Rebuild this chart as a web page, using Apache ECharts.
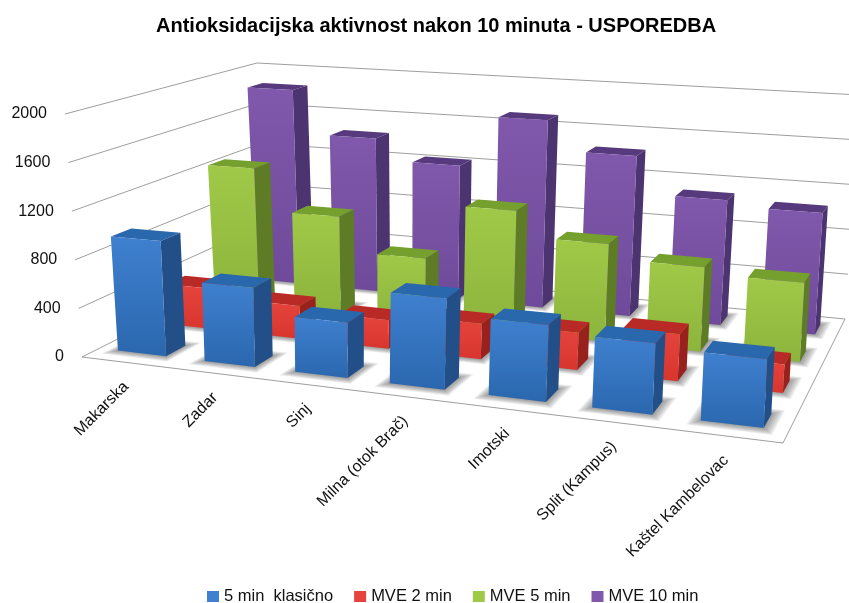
<!DOCTYPE html>
<html>
<head>
<meta charset="utf-8">
<style>
  html, body { margin: 0; padding: 0; background: #fff; }
  #chart { width: 849px; height: 603px; }
</style>
</head>
<body>
<div id="chart"></div>
<script src="https://cdn.jsdelivr.net/npm/echarts@6/dist/echarts.min.js"></script>
<script>
const categories = ["Makarska", "Zadar", "Sinj", "Milna (otok Brač)", "Imotski", "Split (Kampus)", "Kaštel Kambelovac"];
const yTicks = [0, 400, 800, 1200, 1600, 2000];
const seriesNames = ["5 min  klasično", "MVE 2 min", "MVE 5 min", "MVE 10 min"];
const klasicno5 = [950, 640, 440, 710, 585, 530, 500];
const mve2 = [350, 280, 240, 290, 300, 370, 220];
const mve5 = [1245, 870, 565, 1050, 830, 705, 650];
const mve10 = [1845, 1435, 1235, 1705, 1435, 1100, 1050];
const allValues = [klasicno5, mve2, mve5, mve10];

// corners of the box as seen on the page: front left, front right, back right, back left
const floorQuad = [[82, 357], [783, 443], [845, 319], [267, 264]];
const topQuad = [[65, 114], [797, 161], [860, 95], [257, 63]];
const barWidth = 0.56; // share of a category cell
const barDepth = 0.38; // share of a series cell

// unit square -> quad
const makeHomography = (q) => {
  const [p0, p1, p2, p3] = q;
  const dx1 = p1[0] - p2[0], dx2 = p3[0] - p2[0], sx = p0[0] - p1[0] + p2[0] - p3[0];
  const dy1 = p1[1] - p2[1], dy2 = p3[1] - p2[1], sy = p0[1] - p1[1] + p2[1] - p3[1];
  const d = dx1 * dy2 - dx2 * dy1;
  const g = (sx * dy2 - dx2 * sy) / d;
  const h = (dx1 * sy - sx * dy1) / d;
  const a = p1[0] - p0[0] + g * p1[0], b = p3[0] - p0[0] + h * p3[0];
  const c = p1[1] - p0[1] + g * p1[1], e = p3[1] - p0[1] + h * p3[1];
  return (u, v) => {
    const w = g * u + h * v + 1;
    return [(a * u + b * v + p0[0]) / w, (c * u + e * v + p0[1]) / w];
  };
};
const floorAt = makeHomography(floorQuad);
const topAt = makeHomography(topQuad);

// u along the categories, v into the depth, h share of the value axis
const project = (u, v, h) => {
  const f = floorAt(u, v), t = topAt(u, v);
  return [f[0] + (t[0] - f[0]) * h, f[1] + (t[1] - f[1]) * h];
};

// read u and h from the hidden axes
const axisPos = (params, api) => {
  const sys = params.coordSys;
  const pt = api.coord([api.value(0), api.value(1)]);
  return { u: (pt[0] - sys.x) / sys.width, h: (sys.y + sys.height - pt[1]) / sys.height };
};

const palette = [
  { front: ["#3f80cf", "#2a67ae"], top: "#2a68ad", side: "#234f88" },
  { front: ["#e5443d", "#d8352f"], top: "#b92a26", side: "#98211e" },
  { front: ["#a0c948", "#8db43c"], top: "#76a02e", side: "#5d7c25" },
  { front: ["#8058ac", "#6f4a9a"], top: "#563a7d", side: "#4c3470" },
];

const barSeries = (name, idx) => ({
  name: name,
  type: "custom",
  z: 10 - idx,
  itemStyle: { color: palette[idx].front[0] },
  encode: { x: 0, y: 1 },
  data: allValues[idx].map((val, i) => [i, val]),
  renderItem: (params, api) => {
    const { u, h } = axisPos(params, api);
    const hu = barWidth / categories.length / 2;
    const v = (idx + 0.5) / seriesNames.length;
    const hv = barDepth / seriesNames.length / 2;
    const fl = (z) => project(u - hu, v - hv, z);
    const fr = (z) => project(u + hu, v - hv, z);
    const br = (z) => project(u + hu, v + hv, z);
    const bl = (z) => project(u - hu, v + hv, z);
    const c = palette[idx];
    const poly = (points, fill) => ({ type: "polygon", shape: { points }, style: { fill } });
    // soft floor shadow, stacked see-through layers growing out of the bar
    const shadow = [];
    for (let i = 7; i >= 0; i--) {
      const su = hu * (1 + i * 0.05), sv = hv * (1 + i * 0.11);
      shadow.push(poly([project(u - su, v - sv, 0), project(u + su, v - sv, 0), project(u + su, v + sv, 0), project(u - su, v + sv, 0)], "rgba(70,70,70,0.09)"));
    }
    return {
      type: "group",
      children: [
        ...shadow,
        poly([fl(h), fr(h), br(h), bl(h)], c.top),
        poly([fr(0), br(0), br(h), fr(h)], c.side),
        poly([fl(0), fr(0), fr(h), fl(h)], new echarts.graphic.LinearGradient(0, 0, 0, 1, [
          { offset: 0, color: c.front[0] },
          { offset: 1, color: c.front[1] },
        ])),
      ],
    };
  },
});

const textStyle = { fill: "#111", font: "16px 'Liberation Sans'" };

const option = {
  animation: false,
  backgroundColor: "#fff",
  title: {
    text: "Antioksidacijska aktivnost nakon 10 minuta - USPOREDBA",
    left: 151,
    top: 11,
    textStyle: { fontFamily: "Liberation Sans", fontSize: 20, fontWeight: "bold", color: "#000" },
  },
  legend: {
    data: seriesNames,
    top: 583,
    left: 202,
    icon: "rect",
    itemWidth: 12,
    itemHeight: 11,
    itemGap: 21,
    textStyle: { fontFamily: "Liberation Sans", fontSize: 16.5, color: "#111" },
  },
  // axes only give the scales, the box below is drawn from them
  grid: { left: 82, top: 114, width: 700, height: 243 },
  xAxis: { type: "category", data: categories, show: false },
  yAxis: { type: "value", min: 0, max: 2000, interval: 400, show: false },
  series: [
    {
      type: "custom",
      z: 1,
      silent: true,
      encode: { x: 0, y: 1 },
      data: yTicks.map((t) => [0, t]),
      renderItem: (params, api) => {
        const { h } = axisPos(params, api);
        const a = project(0, 0, h), b = project(0, 1, h), c = project(1, 1, h);
        const children = [
          { type: "polyline", shape: { points: [a, b, c] }, style: { stroke: "#9e9e9e", lineWidth: 1, fill: null } },
          { type: "text", x: a[0] - 18, y: a[1], style: { ...textStyle, text: String(api.value(1)), textAlign: "right", textVerticalAlign: "middle" } },
        ];
        if (api.value(1) === 0) {
          const d = project(1, 0, 0);
          children.push({ type: "polyline", shape: { points: [a, d, c] }, style: { stroke: "#9e9e9e", lineWidth: 1, fill: null } });
        }
        return { type: "group", children };
      },
    },
    {
      type: "custom",
      z: 1,
      silent: true,
      encode: { x: 0, y: 1 },
      data: categories.map((c, i) => [i, 0]),
      renderItem: (params, api) => {
        const { u } = axisPos(params, api);
        const p = project(u, 0, 0);
        return {
          type: "text",
          x: p[0] + 1,
          y: p[1] + 22,
          rotation: Math.PI / 4,
          style: { ...textStyle, text: categories[api.value(0)], textAlign: "right", textVerticalAlign: "middle" },
        };
      },
    },
    ...seriesNames.map(barSeries),
  ],
};

const myChart = echarts.init(document.getElementById("chart"));
myChart.setOption(option);
</script>
</body>
</html>
